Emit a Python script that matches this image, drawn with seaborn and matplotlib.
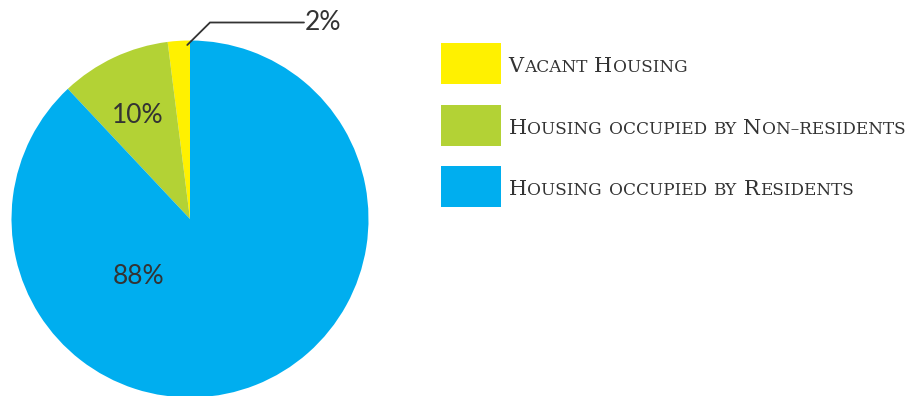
import numpy as np
import matplotlib
matplotlib.use("Agg")
import matplotlib.pyplot as plt
import seaborn as sns
from matplotlib.patches import Rectangle

# Housing stock shares
categories = ["Vacant Housing", "Housing occupied by Non–residents", "Housing occupied by Residents"]
shares = [2, 10, 88]
pct_labels = ["2%", "10%", "88%"]
colors = ["#FFF100", "#B3D235", "#00AEEF"]

sns.set_theme(style="white")
plt.rcParams["font.family"] = ["Lato", "DejaVu Sans"]

W, H = 913, 396
fig = plt.figure(figsize=(W / 100, H / 100), dpi=100)
fig.patch.set_facecolor("white")

# pie axes placed in pixel terms: centre (190, 219), radius 178.5
cx, cy, r = 190.0, 219.0, 178.5
ax = fig.add_axes([(cx - r) / W, (H - cy - r) / H, 2 * r / W, 2 * r / H])
palette = sns.color_palette(colors)
wedges, _ = ax.pie(shares, colors=palette, startangle=90, counterclock=True,
                   radius=1, wedgeprops=dict(linewidth=0))
ax.set_xlim(-1, 1)
ax.set_ylim(-1, 1)
ax.set_aspect("equal")
ax.axis("off")

txt_color = "#333333"


def px(x, y):
    """pixel position -> pie data coordinates"""
    return (x - cx) / r, (cy - y) / r


# 10% inside the green wedge
gx, gy = px(137.5, 123)
ax.text(gx, gy, pct_labels[1], ha="center", va="baseline", fontsize=19, color=txt_color)

# 88% in the blue wedge
bx, by = px(138.5, 284)
ax.text(bx, by, pct_labels[2], ha="center", va="baseline", fontsize=19, color=txt_color)

# 2% with a leader line from the yellow wedge
y0 = wedges[0]
a0 = np.deg2rad(y0.theta1 + 0.9)
p0 = (0.975 * np.cos(a0), 0.975 * np.sin(a0))
p1 = px(210, 22.5)
p2 = px(304, 22.5)
ax.plot([p0[0], p1[0], p2[0]], [p0[1], p1[1], p2[1]], color=txt_color, lw=1.3,
        clip_on=False, solid_joinstyle="miter")
tx, ty = px(305, 30)
ax.text(tx, ty, pct_labels[0], ha="left", va="baseline", fontsize=19, color=txt_color,
        clip_on=False)

# legend: swatches plus small-caps labels
fig.canvas.draw()
renderer = fig.canvas.get_renderer()
BIG, SMALL = 15.0, 12.2
serif = ["DejaVu Serif"]


def small_caps(x, y, label):
    pos = x
    space = 0.30 * BIG * 100 / 72
    for i, word in enumerate(label.split(" ")):
        if i:
            pos += space
        runs = []
        for ch in word:
            big = ch.isupper()
            if runs and runs[-1][1] == big:
                runs[-1][0] += ch.upper()
            else:
                runs.append([ch.upper(), big])
        for s, big in runs:
            t = fig.text(pos / W, 1 - y / H, s, fontsize=BIG if big else SMALL,
                         family=serif, color=txt_color, ha="left", va="baseline")
            pos += t.get_window_extent(renderer).width + 0.5


sw_x, sw_w, sw_h = 441, 59.5, 41
sw_top = [43.3, 104.8, 166.0]
for cat, col, top in zip(categories, palette, sw_top):
    fig.patches.append(Rectangle((sw_x / W, 1 - (top + sw_h) / H), sw_w / W, sw_h / H,
                                 transform=fig.transFigure, facecolor=col, edgecolor="none"))
    small_caps(508.5, top + 29.2, cat)

fig.savefig("out.png", dpi=100, facecolor="white")
